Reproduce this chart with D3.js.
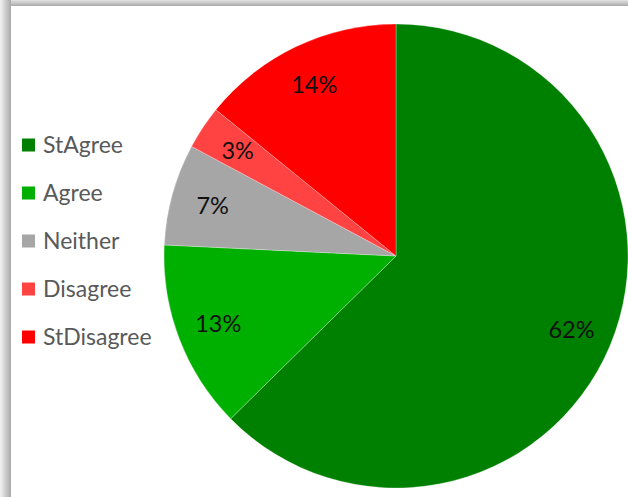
<!DOCTYPE html>
<html>
<head>
<meta charset="utf-8">
<script src="https://cdn.jsdelivr.net/npm/d3@7"></script>
<style>
  html, body { margin: 0; padding: 0; background: #fff; }
  svg { display: block; }
</style>
</head>
<body>
<svg id="chart" width="628" height="497"></svg>
<script>
// Survey response shares (percent)
const categories = ["StAgree", "Agree", "Neither", "Disagree", "StDisagree"];
const values = [62, 13, 7, 3, 14];
const colors = ["#008000", "#00b000", "#a6a6a6", "#ff4343", "#ff0000"];

const W = 628, H = 497;
const svg = d3.select("#chart");

// Drop-shadow edges of the chart frame
const defs = svg.append("defs");
const gTop = defs.append("linearGradient").attr("id", "shadowTop")
  .attr("x1", 0).attr("y1", 0).attr("x2", 0).attr("y2", 1);
gTop.append("stop").attr("offset", "0%").attr("stop-color", "#e4e4e4");
gTop.append("stop").attr("offset", "100%").attr("stop-color", "#a9a9a9");
const gLeft = defs.append("linearGradient").attr("id", "shadowLeft")
  .attr("x1", 0).attr("y1", 0).attr("x2", 1).attr("y2", 0);
gLeft.append("stop").attr("offset", "0%").attr("stop-color", "#f2f2f2");
gLeft.append("stop").attr("offset", "100%").attr("stop-color", "#a9a9a9");

svg.append("rect").attr("x", 0).attr("y", 0).attr("width", W).attr("height", 6)
  .attr("fill", "url(#shadowTop)");
svg.append("rect").attr("x", 0).attr("y", 0).attr("width", 11).attr("height", H)
  .attr("fill", "url(#shadowLeft)");

// Pie
const cx = 396, cy = 256, r = 232;
const pie = d3.pie().sort(null).value(d => d)(values);
const arc = d3.arc().innerRadius(0).outerRadius(r);
const labelArc = d3.arc().innerRadius(r * 0.82).outerRadius(r * 0.82);
const color = d3.scaleOrdinal().domain(categories).range(colors);

const g = svg.append("g").attr("transform", `translate(${cx},${cy})`);
g.selectAll("path.slice")
  .data(pie)
  .join("path")
  .attr("class", "slice")
  .attr("d", arc)
  .attr("fill", (d, i) => color(categories[i]))
  .attr("stroke", "#ffffff")
  .attr("stroke-opacity", 0.35)
  .attr("stroke-width", 0.8);

g.selectAll("text.pct")
  .data(pie)
  .join("text")
  .attr("class", "pct")
  .attr("transform", d => `translate(${labelArc.centroid(d)})`)
  .attr("text-anchor", "middle")
  .attr("dy", "0.36em")
  .attr("font-family", "Lato, 'Open Sans', sans-serif")
  .attr("font-size", 23.5)
  .attr("fill", "#111")
  .text(d => d.data + "%");

// Legend
const legendY = d3.scalePoint().domain(categories).range([145, 337]);
const legend = svg.append("g");
const items = legend.selectAll("g.item")
  .data(categories)
  .join("g")
  .attr("class", "item")
  .attr("transform", d => `translate(22,${legendY(d)})`);
items.append("rect")
  .attr("x", 0).attr("y", -6.5)
  .attr("width", 13).attr("height", 13)
  .attr("fill", d => color(d));
items.append("text")
  .attr("x", 21).attr("dy", "0.36em")
  .attr("font-family", "Lato, 'Open Sans', sans-serif")
  .attr("font-size", 23)
  .attr("fill", "#595959")
  .text(d => d);
</script>
</body>
</html>
